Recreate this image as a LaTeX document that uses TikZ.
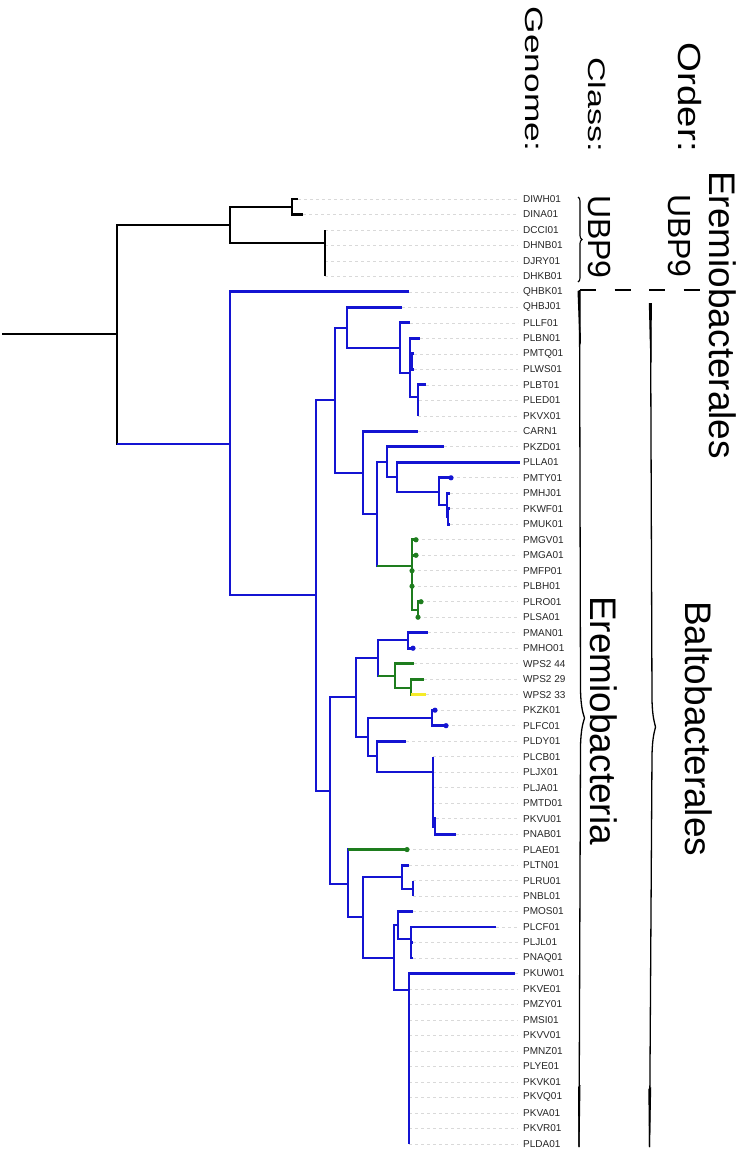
\documentclass[tikz,border=0pt]{standalone}
\usepackage{graphicx}
\usepackage{fontspec}
\setmainfont{Liberation Sans}
\usetikzlibrary{decorations.pathreplacing}
\definecolor{tblue}{RGB}{20,20,210}
\definecolor{tgreen}{RGB}{30,125,30}
\definecolor{tyel}{RGB}{245,235,40}
\newcommand\mixedge[4]{\draw[#1,line cap=rect] (#3) -- (#3 |- #4); \draw[#2] (#3 |- #4) -- (#4);}
\tikzset{
 tr/.style={line width=2.9pt},
 bk/.style={tr, black},
 bl/.style={tr, tblue},
 gr/.style={tr, tgreen},
 ye/.style={tr, tyel},
 guide/.style={gray!30, line width=0.7pt, dash pattern=on 3pt off 3pt},
 leaf/.style={anchor=west, inner sep=0pt, font=\fontsize{10}{12}\selectfont, text=black!85},
 hdr/.style={rotate=-90, anchor=base east, inner sep=0pt},
 big/.style={rotate=-90, anchor=base west, inner sep=0pt},
 thinbar/.style={line width=1.3pt, black},
}
\begin{document}
\begin{tikzpicture}[x=1pt,y=-1pt]
\useasboundingbox (0,0) rectangle (739,1151);
% leaves, labels, guides
\foreach \nm/\tx [count=\i] in {DIWH01/298,DINA01/303,DCCI01/325,DHNB01/325,DJRY01/325,DHKB01/325,QHBK01/409,QHBJ01/402,PLLF01/410,PLBN01/420,PMTQ01/414,PLWS01/414,PLBT01/426,PLED01/419,PKVX01/418,CARN1/418,PKZD01/444,PLLA01/520,PMTY01/451,PMHJ01/450,PKWF01/450,PMUK01/450,PMGV01/416,PMGA01/416,PMFP01/412,PLBH01/412,PLRO01/421,PLSA01/418,PMAN01/428,PMHO01/413,WPS2 44/414,WPS2 29/424,WPS2 33/426,PKZK01/435,PLFC01/446,PLDY01/406,PLCB01/433,PLJX01/433,PLJA01/433,PMTD01/433,PKVU01/436,PNAB01/456,PLAE01/407,PLTN01/409,PLRU01/413,PNBL01/413,PMOS01/413,PLCF01/496,PLJL01/413,PNAQ01/413,PKUW01/515,PKVE01/409,PMZY01/409,PMSI01/409,PKVV01/409,PMNZ01/409,PLYE01/409,PKVK01/409,PKVQ01/409,PKVA01/409,PKVR01/409,PLDA01/409}{
  \coordinate (t\i) at (\tx,{199+15.49*(\i-1)});
  \node[leaf] (n\i) at (523,{199+15.49*(\i-1)}) {\nm};
  \draw[guide] (t\i) -- ([xshift=-5pt]n\i.west);
}
% internal nodes
\coordinate (r0) at (2,334);
\coordinate (R) at (117,334);
\coordinate (A) at (230,225);
\coordinate (A1) at (292,207);
\coordinate (A2) at (325,243);
\coordinate (B) at (230,444);
\coordinate (C) at (316,595);
\coordinate (D) at (335,400);
\coordinate (E) at (347,328);
\coordinate (F) at (400,348);
\coordinate (G) at (410,373);
\coordinate (G2) at (412,362);
\coordinate (H) at (418,397);
\coordinate (I) at (363,473);
\coordinate (J) at (377,514);
\coordinate (K) at (387,462);
\coordinate (L) at (397,477);
\coordinate (M) at (439,492);
\coordinate (N) at (447,505);
\coordinate (N2) at (448,517);
\coordinate (GR) at (412,566);
\coordinate (GR2) at (418,610);
\coordinate (O) at (330,791);
\coordinate (P) at (356,697);
\coordinate (Q) at (378,658);
\coordinate (S) at (408,640);
\coordinate (T) at (395,676);
\coordinate (U) at (411,688);
\coordinate (V) at (368,737);
\coordinate (W) at (432,718);
\coordinate (X) at (377,756);
\coordinate (Y) at (433,772);
\coordinate (Y2) at (435,827);
\coordinate (Z) at (348,884);
\coordinate (AA) at (363,917);
\coordinate (AB) at (402,877);
\coordinate (AC) at (413,889);
\coordinate (AD) at (394,958);
\coordinate (AE) at (398,925);
\coordinate (AF) at (411,939);
\coordinate (AG) at (409,990);
% black edges
\draw[bk] (r0) -- (R);
\foreach \p/\c in {R/A, A/A1, A/A2, A1/t1, A1/t2, A2/t3, A2/t4, A2/t5, A2/t6}
  \draw[bk] (\p) |- (\c);
\mixedge{bk}{bl}{R}{B}
% blue edges
\foreach \p/\c in {B/t7, B/C, C/D, C/O, D/E, D/I, E/t8, E/F, F/t9, F/G, G/t10, G/G2, G/H, G2/t11, G2/t12, H/t13, H/t14, H/t15, I/t16, I/J, J/K, K/t17, K/L, L/t18, L/M, M/t19, M/N, N/t20, N/N2, N2/t21, N2/t22, O/P, O/Z, P/Q, P/V, Q/S, S/t29, S/t30, V/W, V/X, W/t34, W/t35, X/t36, X/Y, Y/t37, Y/t38, Y/t39, Y/t40, Y/Y2, Y2/t41, Y2/t42, Z/AA, AA/AB, AA/AD, AB/t44, AB/AC, AC/t45, AC/t46, AD/AE, AD/AG, AE/t47, AE/AF, AF/t48, AF/t49, AF/t50, AG/t51, AG/t52, AG/t53, AG/t54, AG/t55, AG/t56, AG/t57, AG/t58, AG/t59, AG/t60, AG/t61, AG/t62}
  \draw[bl] (\p) |- (\c);
% green edges
\mixedge{bl}{gr}{J}{GR}
\mixedge{bl}{gr}{Q}{T}
\mixedge{bl}{gr}{Z}{t43}
\foreach \p/\c in {GR/t23, GR/t24, GR/t25, GR/t26, GR/GR2, GR2/t27, GR2/t28, T/t31, T/U, U/t32}
  \draw[gr] (\p) |- (\c);
\mixedge{gr}{ye}{U}{t33}
% tip dots
\foreach \t in {t23,t24,t25,t26,t27,t28,t43} \fill[tgreen] (\t) circle (2.6pt);
\foreach \t in {t19,t30,t34,t35} \fill[tblue] (\t) circle (2.6pt);
% headers
\node[hdr] (hgenome) at (525,152) {\fontsize{25}{25}\selectfont\scalebox{1.41}[1]{Genome:}};
\node[hdr] (hclass) at (588,152) {\fontsize{24}{24}\selectfont\scalebox{1.42}[1]{Class:}};
\node[hdr] (horder) at (678,152) {\fontsize{32}{32}\selectfont\scalebox{1.2}[1]{Order:}};
% group labels
\node[big] (cubp) at (588,195) {\fontsize{32}{32}\selectfont UBP9};
\node[big] (oubp) at (668,194) {\fontsize{32}{32}\selectfont UBP9};
\node[big] (oerem) at (709,171) {\fontsize{37}{37}\selectfont Eremiobacterales};
\node[big] (cerem) at (590,596) {\fontsize{37}{37}\selectfont Eremiobacteria};
\node[big] (obalt) at (685,601) {\fontsize{37}{37}\selectfont Baltobacterales};
% brackets
\draw[line width=1.1pt, decorate, decoration={brace, amplitude=4pt}] (578,197) -- (578,282);
\draw[line width=2.2pt, dash pattern=on 16pt off 18.5pt] (580,290) -- (700,290);
\draw[thinbar] (579.5,290) -- (580.5,690) .. controls (581,710) and (583.5,714) .. (584.5,718) .. controls (583.5,722) and (581,727) .. (580.5,746) -- (579,1147);
\fill (577.5,291) -- (580.5,290) -- (580.8,343) -- (579.6,346) -- cycle;
\fill (578,1087) -- (580.5,1085) -- (579.5,1147) -- (578.5,1147) -- cycle;
\draw[thinbar] (650.5,303) -- (652,700) .. controls (652.5,718) and (654.5,722) .. (655.5,727) .. controls (654.5,732) and (652.5,736) .. (652,755) -- (649.5,1147);
\fill (648.8,303) -- (651.8,303) -- (651.6,362) -- (650.4,364) -- cycle;
\fill (648.3,1089) -- (651.2,1087) -- (650,1147) -- (649,1147) -- cycle;
\end{tikzpicture}
\end{document}
